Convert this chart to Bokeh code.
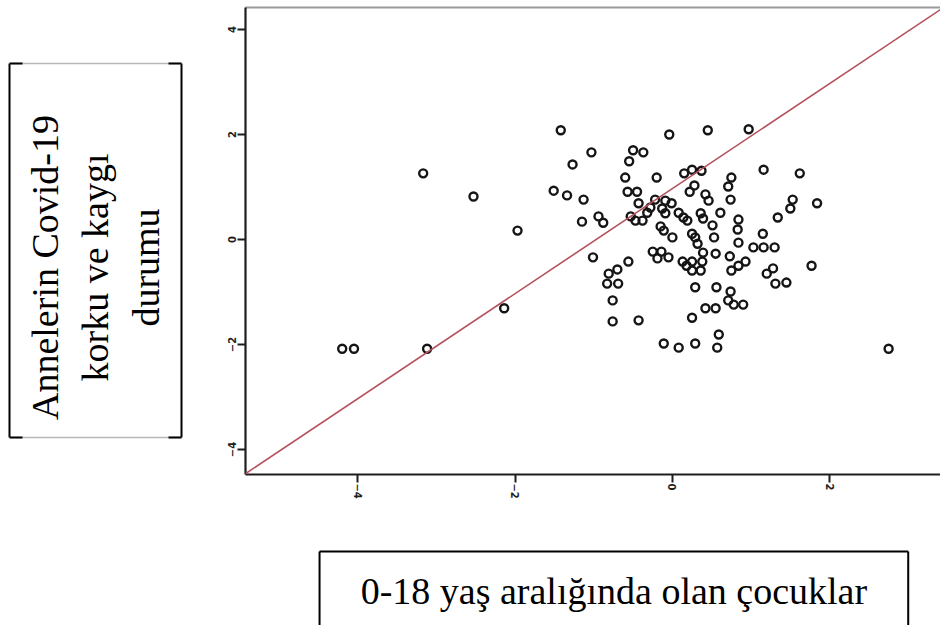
import math
from bokeh.plotting import figure
from bokeh.layouts import row, column
from bokeh.models import Range1d, FixedTicker, LinearAxis, Slope
from bokeh.core.properties import value
from bokeh.embed import file_html
from bokeh.resources import INLINE

# ---------------- data ----------------
x_vals = [-4.20, -4.05, -3.12, -3.17, -2.53, -1.97, -2.14, 2.75, -1.42, -1.27,
          -1.51, -1.34, -1.13, -1.15, -1.03, -0.94, -0.88, -1.01, -0.04, 0.45,
          0.97, -0.50, -0.37, -0.55, -0.60, -0.20, -0.57, -0.45, 0.15, 0.25,
          0.37, 0.22, 0.28, 0.42, 0.46, -0.43, -0.22, -0.09, -0.01, -0.53,
          -0.47, -0.38, -0.32, -0.28, -0.13, -0.09, 0.08, 0.14, -0.15, -0.11,
          0.00, 0.19, 0.25, 0.29, 0.36, 0.39, 0.51, 1.16, 1.62, 1.84,
          1.53, 1.50, 1.34, 0.75, 0.71, 0.74, 0.61, 0.84, 0.83, 0.53,
          0.84, 1.15, 1.03, 1.16, 1.30, 0.55, 0.73, 0.75, 0.84, 0.93,
          1.20, 1.28, 1.31, 1.45, 1.77, 0.56, 0.74, 0.71, 0.78, 0.90,
          0.42, 0.55, 0.59, 0.57, -0.56, -0.81, -0.70, -0.83, -0.69, -0.76,
          -0.76, -0.11, 0.08, 0.29, 0.29, 0.25, -0.25, -0.14, -0.19, -0.05,
          0.13, 0.18, 0.25, 0.38, 0.36, 0.25, 0.32, 0.39, -0.43]
y_vals = [-2.08, -2.08, -2.08, 1.26, 0.82, 0.17, -1.31, -2.08, 2.08, 1.43,
          0.93, 0.84, 0.76, 0.34, 1.66, 0.44, 0.32, -0.34, 2.00, 2.08,
          2.10, 1.70, 1.66, 1.49, 1.18, 1.18, 0.91, 0.91, 1.26, 1.33,
          1.31, 0.91, 1.03, 0.86, 0.74, 0.69, 0.76, 0.74, 0.69, 0.44,
          0.36, 0.36, 0.51, 0.61, 0.59, 0.50, 0.51, 0.42, 0.25, 0.17,
          0.04, 0.36, 0.11, 0.04, 0.50, 0.40, 0.27, 1.33, 1.26, 0.69,
          0.76, 0.59, 0.42, 1.18, 1.01, 0.76, 0.51, 0.38, 0.19, 0.04,
          -0.06, 0.11, -0.15, -0.15, -0.15, -0.27, -0.32, -0.59, -0.50, -0.42,
          -0.65, -0.55, -0.84, -0.82, -0.50, -0.91, -0.99, -1.16, -1.24, -1.24,
          -1.31, -1.31, -1.81, -2.06, -0.42, -0.65, -0.57, -0.84, -0.84, -1.16,
          -1.56, -1.98, -2.06, -1.98, -0.91, -1.49, -0.23, -0.23, -0.36, -0.34,
          -0.42, -0.50, -0.42, -0.42, -0.59, -0.59, -0.08, -0.25, -1.54]
x_ticks = [-4, -2, 0, 2]
y_ticks = [-4, -2, 0, 2, 4]
fit_gradient = 1.0
fit_intercept = 0.97
y_title = "Annelerin Covid-19\nkorku ve kaygı\ndurumu"
x_title = "0-18 yaş aralığında olan çocuklar"

SERIF = "Liberation Serif"
PAGE_BOTTOM = 625  # page y of the bottom of the layout


def fy(page_y):
    """page y (from top) -> helper figure data y (from bottom)"""
    return PAGE_BOTTOM - page_y


# ---------------- main scatter plot ----------------
p = figure(frame_width=695, frame_height=467,
           min_border_left=37, min_border_right=0,
           min_border_top=7, min_border_bottom=64,
           x_range=Range1d(-5.43, 3.41), y_range=Range1d(-4.476, 4.419),
           output_backend="svg", toolbar_location=None)
p.grid.visible = False
p.outline_line_color = None
p.background_fill_color = "white"
p.border_fill_color = "white"

for ax, ticks in ((p.xaxis[0], x_ticks), (p.yaxis[0], y_ticks)):
    ax.ticker = FixedTicker(ticks=ticks)
    ax.axis_line_width = 2.2
    ax.axis_line_color = "#1e1e1e"
    ax.major_tick_line_width = 2
    ax.major_tick_line_color = "#1e1e1e"
    ax.major_tick_out = 8
    ax.major_tick_in = 0
    ax.minor_tick_line_color = None
    ax.major_label_text_font = "DejaVu Sans"
    ax.major_label_text_font_style = "bold"
    ax.major_label_text_font_size = "10px"
    ax.major_label_text_color = "#1e1e1e"
    ax.major_label_orientation = "vertical"
    ax.major_label_standoff = 1

top_axis = LinearAxis(ticker=FixedTicker(ticks=[]), axis_line_color="#9a9a9a",
                      axis_line_width=2, major_tick_out=0, major_tick_in=0,
                      minor_tick_out=0, minor_tick_in=0,
                      major_label_text_font_size="0px", major_label_standoff=0)
p.add_layout(top_axis, "above")

p.add_layout(Slope(gradient=fit_gradient, y_intercept=fit_intercept,
                   line_color="#b5505c", line_width=1.6))

p.scatter(x_vals, y_vals, marker="circle", size=8, fill_color=None,
          line_color="#151515", line_width=2.4)

# ---------------- left label box ----------------
lf = figure(width=208, height=625, x_range=Range1d(0, 208), y_range=Range1d(0, 625),
            x_axis_type=None, y_axis_type=None, min_border=0,
            output_backend="svg", toolbar_location=None)
lf.outline_line_color = None
lf.grid.visible = False
# side edges
lf.segment(x0=[9, 181], y0=[fy(63), fy(63)], x1=[9, 181], y1=[fy(437), fy(437)],
           line_color="black", line_width=2)
# top / bottom edges (grey middle, black corners)
lf.segment(x0=[9, 9], y0=[fy(63), fy(437)], x1=[181, 181], y1=[fy(63), fy(437)],
           line_color="#b8b8b8", line_width=1.5)
lf.segment(x0=[9, 168, 9, 168], y0=[fy(63), fy(63), fy(437), fy(437)],
           x1=[22, 181, 22, 181], y1=[fy(63), fy(63), fy(437), fy(437)],
           line_color="black", line_width=2)
lf.text(x=[95], y=[fy(267)], text=[y_title], angle=math.pi / 2,
        text_align="center", text_baseline="middle",
        text_font=value(SERIF), text_font_size="38px", text_line_height=1.2,
        text_color="black")

# ---------------- bottom label box ----------------
bf = figure(width=732, height=87, x_range=Range1d(208, 940), y_range=Range1d(0, 87),
            x_axis_type=None, y_axis_type=None, min_border=0,
            output_backend="svg", toolbar_location=None)
bf.outline_line_color = None
bf.grid.visible = False
bf.segment(x0=[286, 906, 286], y0=[fy(551), fy(551), fy(551)],
           x1=[286, 906, 906], y1=[fy(640), fy(640), fy(551)],
           line_color="black", line_width=2)
bf.text(x=[596], y=[fy(590)], text=[x_title], text_align="center",
        text_baseline="middle", text_font=value(SERIF), text_font_size="38px",
        text_color="black")

layout = row(lf, column(p, bf, spacing=0), spacing=0)

open("out.html", "w").write(file_html(layout, INLINE))
